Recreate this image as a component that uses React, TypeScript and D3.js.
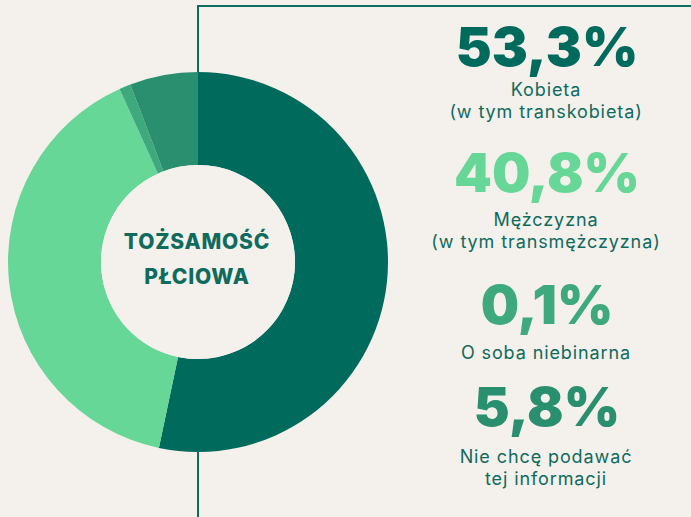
import React from "react";
import * as d3 from "d3";

const categories: string[][] = [
  ["Kobieta", "(w tym transkobieta)"],
  ["Mężczyzna", "(w tym transmężczyzna)"],
  ["O soba niebinarna"],
  ["Nie chcę podawać", "tej informacji"],
];
const values: number[] = [53.3, 40.8, 0.1, 5.8];
const valueLabels: string[] = ["53,3%", "40,8%", "0,1%", "5,8%"];
const centerTitle: string[] = ["TOŻSAMOŚĆ", "PŁCIOWA"];

const COLORS = ["#006a5c", "#66d796", "#3ea97d", "#2a8f6e"];
const BG = "#f4f0ec";
const INK = "#0e6b5e";
const W = 691;
const H = 517;

// layout of the right-hand legend blocks (baselines)
const numberBaselines = [66, 192, 324, 426];
const labelBaselines = [96, 226, 359, 463];
const LINE_H = 22;
const LEGEND_X = 547;

export default function App() {
  const cx = 198;
  const cy = 262;
  const rOuter = 190;
  const rInner = 97;

  const pie = d3
    .pie<number>()
    .sort(null)
    .value((d) => d);
  const arcs = pie(values).map((a) => ({ ...a }));
  // very small shares get a minimum visible angle, taken from the preceding slice
  const minAngle = 2 * Math.PI * 0.0097;
  for (let i = 1; i < arcs.length; i++) {
    if (arcs[i].endAngle - arcs[i].startAngle < minAngle) {
      arcs[i].startAngle = arcs[i].endAngle - minAngle;
      arcs[i - 1].endAngle = arcs[i].startAngle;
    }
  }
  const arcGen = d3
    .arc<d3.PieArcDatum<number>>()
    .innerRadius(rInner)
    .outerRadius(rOuter);

  return (
    <div style={{ position: "absolute", left: 0, top: 0, width: W, height: H }}>
      <svg width={W} height={H} style={{ display: "block" }}>
        <rect x={0} y={0} width={W} height={H} fill={BG} />
        {/* frame lines */}
        <line x1={cx} x2={cx} y1={5} y2={H} stroke={INK} strokeWidth={2} />
        <line x1={cx - 1} x2={W} y1={6} y2={6} stroke={INK} strokeWidth={2} />
        <g transform={`translate(${cx},${cy})`}>
          {arcs.map((a, i) => (
            <path key={i} d={arcGen(a) || ""} fill={COLORS[i]} />
          ))}
          <circle r={rInner} fill={BG} />
          {centerTitle.map((t, i) => (
            <text
              key={t}
              x={-1}
              y={-13 + i * 35}
              textAnchor="middle"
              fill={INK}
              style={{
                fontFamily: "Inter, 'DejaVu Sans', sans-serif",
                fontWeight: 800,
                fontSize: 21,
                letterSpacing: 0.8,
              }}
            >
              {t}
            </text>
          ))}
        </g>
        {valueLabels.map((v, i) => (
          <g key={v}>
            <text
              x={LEGEND_X}
              y={numberBaselines[i]}
              textAnchor="middle"
              fill={COLORS[i]}
              style={{
                fontFamily: "Inter, 'DejaVu Sans', sans-serif",
                fontWeight: 900,
                fontSize: 54,
                letterSpacing: 0,
              }}
            >
              {v}
            </text>
            {categories[i].map((line, j) => (
              <text
                key={line}
                x={LEGEND_X - 1}
                y={labelBaselines[i] + j * LINE_H}
                textAnchor="middle"
                fill={INK}
                style={{
                  fontFamily: "Inter, 'DejaVu Sans', sans-serif",
                  fontWeight: 400,
                  fontSize: 18,
                  letterSpacing: 0.9,
                }}
              >
                {line}
              </text>
            ))}
          </g>
        ))}
      </svg>
    </div>
  );
}
